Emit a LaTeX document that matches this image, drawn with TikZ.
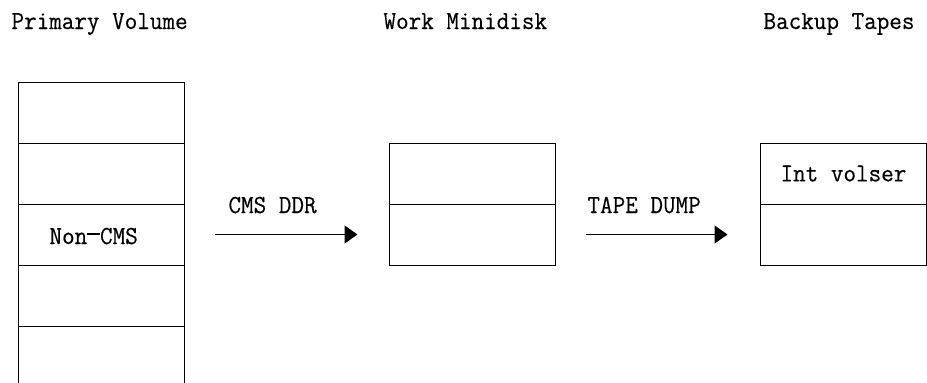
\documentclass[tikz,border=0pt]{standalone}
\usepackage{fontspec}
\setmonofont[FakeStretch=0.94, FakeBold=0.4]{Latin Modern Mono}
\usetikzlibrary{positioning, arrows.meta}

\begin{document}
\begin{tikzpicture}[x=1pt, y=-1pt, line width=1pt,
    cell/.style={draw, minimum width=166pt, minimum height=61pt,
      inner sep=0pt, outer sep=0pt},
    lbl/.style={font=\ttfamily\fontsize{26}{30}\selectfont, inner sep=0pt},
    >={Triangle[length=13pt,width=18pt]}]
  \useasboundingbox (0,0) rectangle (927,383);

  % headings
  \node[lbl, anchor=base west] (hprim) at (11,29) {Primary Volume};
  \node[lbl, anchor=base west] (hwork) at (383,29) {Work Minidisk};
  \node[lbl, anchor=base west] (hback) at (763,29) {Backup Tapes};

  % primary volume, runs on past the bottom
  \node[cell] (p1) at (101,112.5) {};
  \node[cell, below=0pt of p1] (p2) {};
  \node[cell, below=0pt of p2] (p3) {};
  \node[cell, below=0pt of p3] (p4) {};
  \draw (p4.south west) -- ++(0,57) (p4.south east) -- ++(0,57);
  \node[lbl, anchor=base west] (noncms) at (49,244)
    {Non\rule[9.5pt]{12.8pt}{1.2pt}CMS};

  % work minidisk
  \node[cell] (w1) at (472.5,173.5) {};
  \node[cell, below=0pt of w1] (w2) {};

  % backup tapes
  \node[cell, lbl] (b1) at (843.5,173.5) {Int volser};
  \node[cell, below=0pt of b1] (b2) {};

  \draw[->] ([xshift=31pt]p3.east) -- ([xshift=-32pt]w2.west);
  \draw[->] ([xshift=30pt]w2.east) -- ([xshift=-33pt]b2.west);
  \node[lbl, anchor=base west] (ddr) at (228,213) {CMS DDR};
  \node[lbl, anchor=base west] (dump) at (587,213) {TAPE DUMP};
\end{tikzpicture}
\end{document}
